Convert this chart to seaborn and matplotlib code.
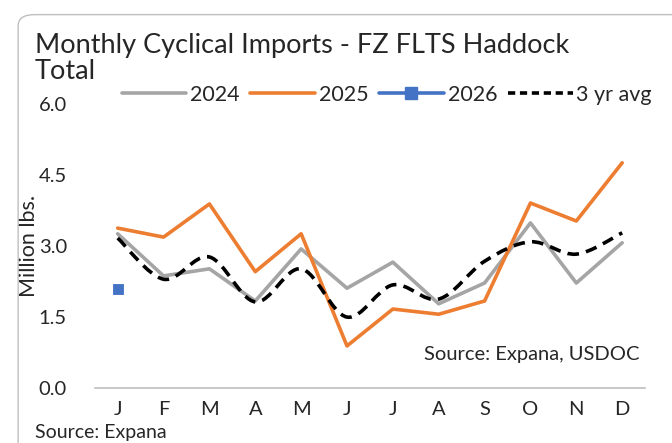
import matplotlib.pyplot as plt
import numpy as np
import pandas as pd
import seaborn as sns
from matplotlib.lines import Line2D
from matplotlib.patches import FancyBboxPatch, PathPatch
from matplotlib.path import Path

months = ["J", "F", "M", "A", "M", "J", "J", "A", "S", "O", "N", "D"]
vals_2024 = [3.26, 2.37, 2.52, 1.84, 2.94, 2.11, 2.66, 1.78, 2.22, 3.49, 2.22, 3.07]
vals_2025 = [3.38, 3.19, 3.89, 2.46, 3.26, 0.89, 1.67, 1.56, 1.84, 3.91, 3.53, 4.76]
vals_2026 = [2.09]
vals_avg = [3.17, 2.30, 2.77, 1.82, 2.52, 1.50, 2.18, 1.88, 2.68, 3.09, 2.83, 3.28]
y_ticks = [0.0, 1.5, 3.0, 4.5, 6.0]

GRAY = "#A5A5A5"
ORANGE = "#ED7D31"
BLUE = "#4472C4"

sns.set_style("white")
plt.rcParams["font.family"] = ["Lato", "DejaVu Sans"]

x = np.arange(len(months))
df = pd.DataFrame({"x": x, "2024": vals_2024, "2025": vals_2025})

fig = plt.figure(figsize=(6.72, 4.43), dpi=100)
ax = fig.add_axes([0.141, 0.124, 0.819, 0.641])

# rounded chart border
border = FancyBboxPatch((0.027, -0.05), 1.0, 1.017, transform=fig.transFigure,
                        boxstyle="round,pad=0,rounding_size=0.025",
                        fc="none", ec="#BFBFBF", lw=1.0, clip_on=False)
fig.patches.append(border)

sns.lineplot(data=df, x="x", y="2024", color=GRAY, lw=2.6, ax=ax)
sns.lineplot(data=df, x="x", y="2025", color=ORANGE, lw=2.6, ax=ax)
sns.scatterplot(x=x[:len(vals_2026)], y=vals_2026, color=BLUE, marker="s", s=60,
                edgecolor=BLUE, ax=ax, zorder=5)

# smoothed 3 yr avg line (Catmull-Rom through the points)
pts = np.column_stack([x, vals_avg]).astype(float)
ext = np.vstack([pts[0], pts, pts[-1]])
verts = [tuple(pts[0])]
codes = [Path.MOVETO]
for i in range(1, len(ext) - 2):
    p0, p1, p2, p3 = ext[i - 1], ext[i], ext[i + 1], ext[i + 2]
    c1 = p1 + (p2 - p0) / 6
    c2 = p2 - (p3 - p1) / 6
    verts += [tuple(c1), tuple(c2), tuple(p2)]
    codes += [Path.CURVE4] * 3
ax.add_patch(PathPatch(Path(verts, codes), fc="none", ec="black", lw=2.6,
                       ls=(0, (3.2, 2)), zorder=4))

ax.set_xlim(-0.5, 11.5)
ax.set_ylim(0, 6.0)
ax.set_yticks(y_ticks)
ax.set_yticklabels([f"{v:.1f}" for v in y_ticks])
ax.set_xticks(x)
ax.set_xticklabels(months)
ax.set_xticks(np.arange(-0.5, 12, 1), minor=True)
ax.tick_params(axis="x", which="major", length=0, pad=9, labelsize=14.5)
ax.tick_params(axis="x", which="minor", length=6, color="#BFBFBF", width=1, direction="out")
ax.tick_params(axis="y", length=0, pad=20, labelsize=14.5)
ax.set_xlabel("")
ax.set_ylabel("Million lbs.", fontsize=15.5, labelpad=0)
for s in ["top", "right", "left"]:
    ax.spines[s].set_visible(False)
ax.spines["bottom"].set_color("#BFBFBF")
ax.spines["bottom"].set_linewidth(1.2)

ax.text(0.99, 0.09, "Source: Expana, USDOC", transform=ax.transAxes,
        ha="right", va="bottom", fontsize=14.5)

fig.text(0.052, 0.898, "Monthly Cyclical Imports - FZ FLTS Haddock",
         fontsize=19.5, ha="left", va="center")
fig.text(0.052, 0.838, "Total", fontsize=19.5, ha="left", va="center")
fig.text(0.052, 0.004, "Source: Expana", fontsize=14, ha="left", va="bottom")

handles = [
    Line2D([], [], color=GRAY, lw=2.6),
    Line2D([], [], color=ORANGE, lw=2.6),
    Line2D([], [], color=BLUE, lw=2.6, marker="s", ms=8),
    Line2D([], [], color="black", lw=2.6, ls=(0, (2, 1.3))),
]
fig.legend(handles, ["2024", "2025", "2026", "3 yr avg"], loc="center left",
           bbox_to_anchor=(0.168, 0.786), ncol=4, frameon=False, fontsize=15.5,
           handlelength=3.0, handletextpad=0.18, columnspacing=0.5, borderaxespad=0)

fig.savefig("out.png", dpi=100)
